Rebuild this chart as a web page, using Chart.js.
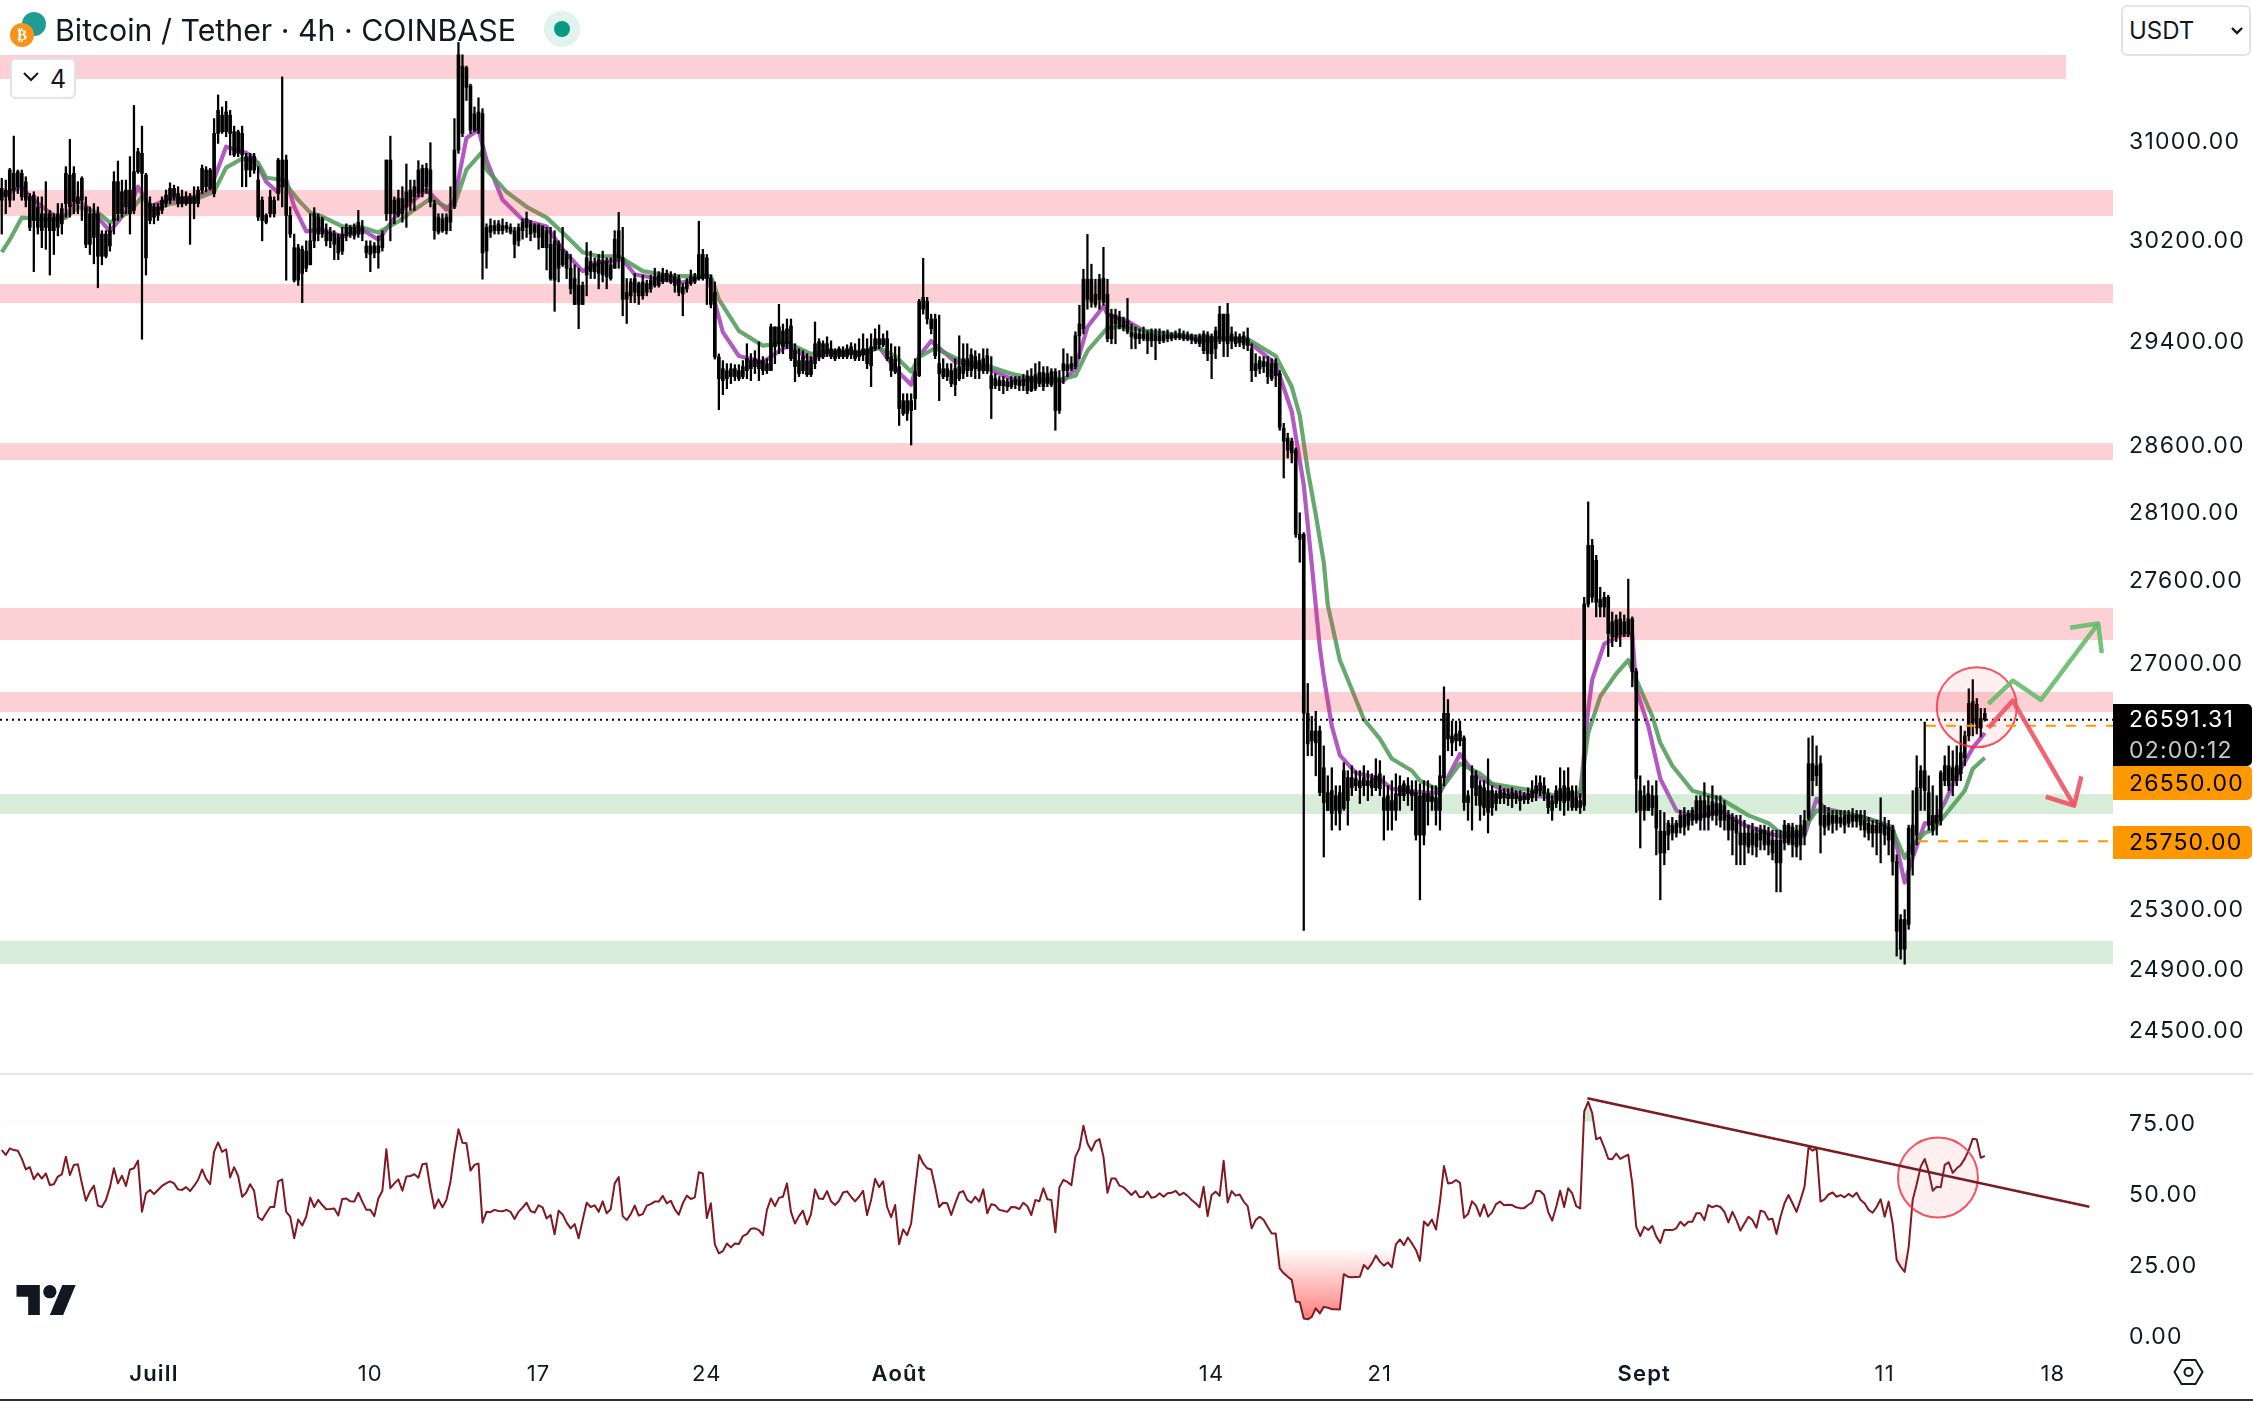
<!DOCTYPE html>
<html>
<head>
<meta charset="utf-8">
<title>Bitcoin / Tether 4h</title>
<script src="https://cdn.jsdelivr.net/npm/chart.js@4/dist/chart.umd.js"></script>
<style>
  html, body { margin: 0; padding: 0; background: #fff; }
  body { width: 2253px; height: 1401px; position: relative; overflow: hidden; font-family: Inter, sans-serif; color: #131722; }
  canvas { position: absolute; left: 0; display: block; }
  #priceChart { top: 0; }
  #rsiChart { top: 1075px; }
  .abs { position: absolute; }
  #sep { left: 0; top: 1073px; width: 2253px; height: 2px; background: #e0e3eb; }
  #bottomBar { left: 0; top: 1399px; width: 2253px; height: 2px; background: #2a2e39; }
  #title { left: 55px; top: 10px; font-size: 30.3px; line-height: 40px; white-space: nowrap; }
  .coin { border-radius: 50%; width: 24px; height: 24px; }
  #usdtIcon { left: 22px; top: 12px; background: #1f9c93; }
  #btcIcon { left: 10px; top: 23px; background: #f7931a; color: #fff; font: bold 15px/24px "DejaVu Sans"; text-align: center; }
  #statusOuter { left: 544px; top: 11px; width: 36px; height: 36px; border-radius: 50%; background: #e1f3ee; }
  #statusDot { left: 554px; top: 21px; width: 16px; height: 16px; border-radius: 50%; background: #089981; }
  .box { border: 2px solid #e0e3eb; border-radius: 6px; background: #fff; box-sizing: border-box; }
  #collapseBox { left: 10px; top: 58px; width: 66px; height: 41px; }
  #collapseNum { left: 50px; top: 62px; font-size: 25px; line-height: 34px; }
  #usdtBox { left: 2121px; top: 5px; width: 130px; height: 51px; }
  #usdtText { left: 2129px; top: 14px; font-size: 24px; line-height: 34px; }
  .tag { left: 2113px; width: 139px; box-sizing: border-box; padding-left: 16px; font-size: 23px; letter-spacing: 1.2px; white-space: nowrap; border-radius: 0 5px 5px 0; }
</style>
</head>
<body>
<canvas id="priceChart" width="2253" height="1074"></canvas>
<canvas id="rsiChart" width="2253" height="326"></canvas>
<div class="abs" id="sep"></div>
<div class="abs" id="bottomBar"></div>

<div class="abs coin" id="usdtIcon"></div>
<div class="abs coin" id="btcIcon">₿</div>
<div class="abs" id="title">Bitcoin / Tether · 4h · COINBASE</div>
<div class="abs" id="statusOuter"></div>
<div class="abs" id="statusDot"></div>

<div class="abs box" id="collapseBox"></div>
<svg class="abs" style="left:22px;top:70px" width="18" height="14" viewBox="0 0 18 14"><path d="M2 3l7 7 7-7" fill="none" stroke="#131722" stroke-width="2"/></svg>
<div class="abs" id="collapseNum">4</div>

<div class="abs box" id="usdtBox"></div>
<div class="abs" id="usdtText">USDT</div>
<svg class="abs" style="left:2230px;top:26px" width="14" height="10" viewBox="0 0 14 10"><path d="M2 2l5 5 5-5" fill="none" stroke="#131722" stroke-width="2.4"/></svg>

<svg class="abs" style="left:16px;top:1285px" width="61" height="30" viewBox="0 4 36 18"><path d="M14 22H7V11H0V4h14v18zM28 22h-8l7.5-18h8L28 22z" fill="#131722"/><circle cx="20" cy="8" r="4" fill="#131722"/></svg>
<svg class="abs" style="left:2173px;top:1358px" width="31" height="28" viewBox="0 0 31 28"><path d="M8.5 2h14l7 12-7 12h-14l-7-12z" fill="none" stroke="#131722" stroke-width="2"/><circle cx="15.5" cy="14" r="4" fill="none" stroke="#131722" stroke-width="2"/></svg>

<script>
// right axis and time axis
const priceTicks = [31000, 30200, 29400, 28600, 28100, 27600, 27000, 25300, 24900, 24500];
const rsiTicks = [75, 50, 25, 0];
const timeTickIndex = [38, 92, 134, 176, 224, 302, 344, 410, 470, 512];
const timeTickLabels = ["Juill", "10", "17", "24", "Août", "14", "21", "Sept", "11", "18"];
const boldLabels = ["Juill", "Août", "Sept"];

// 4h candles, one line per ten bars
const closes = [
  30605,30592,30755,30728,30741,30728,30660,30537,30551,30456,
  30401,30401,30401,30374,30401,30442,30728,30714,30728,30537,
  30687,30456,30401,30401,30401,30238,30238,30265,30660,30660,
  30578,30592,30592,30741,30904,30891,30714,30483,30456,30456,
  30510,30551,30605,30605,30564,30537,30537,30537,30537,30592,
  30768,30755,30755,31054,31244,31204,31231,31204,31068,31068,
  31054,30864,30864,30864,30673,30510,30388,30537,30510,30836,
  30836,30836,30388,30129,30129,30116,30102,30184,30401,30374,
  30360,30265,30252,30238,30211,30238,30292,30292,30292,30333,
  30292,30143,30143,30143,30143,30238,30836,30836,30510,30524,
  30524,30578,30592,30619,30755,30768,30768,30755,30483,30374,
  30360,30374,30428,30918,31707,31612,31598,31448,31217,31231,
  31217,30292,30306,30306,30320,30306,30306,30292,30265,30292,
  30333,30360,30320,30306,30306,30292,30265,30156,30184,30156,
  30116,30075,29966,29884,29830,29830,30048,30020,30007,30034,
  30020,30020,29993,30197,30265,30048,29776,29857,29884,29844,
  29857,29844,29871,29898,29912,29925,29925,29912,29898,29884,
  29816,29857,29898,29898,30075,30075,30048,29884,29776,29270,
  29180,29165,29180,29180,29165,29196,29257,29242,29257,29242,
  29242,29219,29504,29504,29504,29473,29489,29512,29319,29242,
  29273,29242,29242,29373,29388,29373,29373,29334,29319,29334,
  29319,29334,29350,29319,29319,29334,29334,29350,29412,29412,
  29412,29412,29273,29257,29196,28934,28934,28934,29157,29705,
  29736,29705,29566,29566,29219,29180,29180,29165,29180,29196,
  29257,29257,29288,29273,29242,29257,29280,29126,29103,29088,
  29088,29080,29088,29096,29088,29096,29119,29119,29134,29150,
  29150,29142,29157,29157,29103,29219,29211,29219,29435,29527,
  29879,29879,29879,29760,29879,29887,29760,29604,29597,29581,
  29550,29550,29466,29458,29450,29450,29450,29450,29442,29435,
  29435,29442,29442,29442,29450,29442,29435,29435,29412,29427,
  29450,29442,29427,29473,29604,29604,29604,29450,29427,29427,
  29435,29412,29334,29219,29242,29234,29234,29219,29219,29142,
  28724,28649,28626,28558,27928,27928,26637,26512,26512,26512,
  26256,26083,26097,26062,26083,26235,26187,26187,26180,26166,
  26187,26166,26180,26200,26214,26048,26062,26028,26076,26131,
  26145,26131,26097,26083,26062,26076,26076,26062,26048,26200,
  26637,26637,26478,26492,26512,26464,26062,26200,26200,26131,
  26117,26097,26097,26076,26097,26083,26076,26083,26076,26062,
  26062,26076,26097,26131,26152,26131,26076,26028,26097,26110,
  26131,26117,26097,26048,26028,27417,27847,27847,27737,27453,
  27467,27467,27289,27303,27310,27289,27310,27310,26933,26097,
  26062,26076,26062,26062,25819,25819,25873,25860,25873,25927,
  25927,25940,25961,26028,26028,26028,25995,26021,26008,26008,
  25995,25927,25913,25893,25806,25806,25806,25826,25806,25826,
  25826,25806,25758,25758,25758,25860,25860,25846,25826,25860,
  25893,26284,26284,26270,26284,25927,25940,25927,25927,25913,
  25927,25927,25927,25927,25927,25893,25873,25860,25860,25873,
  25860,25846,25826,25610,25222,25222,25839,25860,26117,26235,
  26235,26083,25927,25927,26221,26270,26270,26256,26270,26360,
  26478,26706,26720,26700,26602,26591.31
];
const opens = [
  30510,30537,30510,30592,30619,30537,30510,30292,30347,30292,
  30265,30292,30265,30265,30292,30320,30483,30456,30496,30483,
  30510,30156,30156,30211,30061,30061,30061,30143,30347,30401,
  30401,30456,30401,30428,30741,30728,30048,30347,30374,30388,
  30428,30483,30510,30537,30483,30483,30483,30483,30483,30483,
  30592,30619,30605,30564,31054,31068,31068,31054,30877,30891,
  30877,30755,30755,30755,30374,30347,30333,30401,30401,30564,
  30619,30388,30238,29871,29871,29925,29966,29993,30184,30238,
  30238,30184,30184,30156,30088,30102,30224,30238,30224,30238,
  30238,30088,30075,30088,30088,30129,30401,30401,30401,30388,
  30401,30456,30496,30537,30564,30578,30619,30496,30265,30252,
  30265,30265,30333,30456,30918,31054,31435,31081,31081,31081,
  30088,30102,30252,30265,30265,30265,30279,30252,30156,30184,
  30265,30292,30238,30252,30211,30129,30129,29884,29871,29966,
  29993,29966,29803,29680,29680,29680,29912,29939,29939,29925,
  29912,29898,29884,29966,30048,29721,29721,29748,29776,29748,
  29748,29776,29803,29830,29830,29857,29871,29857,29830,29776,
  29762,29803,29844,29857,29884,29884,29884,29680,29270,29102,
  29088,29103,29119,29119,29103,29119,29165,29180,29196,29180,
  29165,29165,29165,29350,29373,29350,29373,29257,29196,29142,
  29165,29134,29134,29219,29273,29273,29296,29273,29257,29273,
  29273,29273,29288,29257,29273,29288,29219,29203,29334,29365,
  29365,29257,29165,29157,28874,28836,28836,28859,28949,29126,
  29643,29566,29489,29280,29142,29119,29119,29065,29057,29103,
  29142,29165,29165,29180,29165,29165,29165,29026,29049,29049,
  29049,29041,29041,29057,29049,29049,29011,29011,29026,29065,
  29041,29065,29057,28859,28859,29165,29165,29180,29196,29435,
  29489,29720,29697,29681,29720,29697,29412,29412,29527,29504,
  29504,29466,29427,29412,29412,29412,29396,29396,29396,29396,
  29396,29412,29412,29419,29419,29412,29412,29404,29388,29373,
  29319,29296,29296,29334,29412,29396,29373,29396,29373,29381,
  29365,29358,29165,29165,29180,29196,29119,29103,29126,28731,
  28626,28558,28536,27928,27891,26637,26422,26443,26429,26083,
  26015,25961,25940,25961,25940,25974,26028,26117,26131,26117,
  26131,26131,26117,26117,26110,25961,25961,25961,25961,26062,
  26062,26076,26062,25792,25792,25792,26021,26021,25961,25961,
  26187,26457,26429,26443,26443,26015,26015,26117,26062,25995,
  25981,25947,25981,26008,26042,26048,26042,26042,26042,26028,
  26035,26035,26048,26076,26097,26076,25981,25961,26008,26028,
  26015,26028,25981,25981,25981,25995,27417,27467,27431,27396,
  27396,27204,27182,27182,27196,27204,27204,26933,26180,25961,
  25961,25961,25981,25839,25670,25670,25792,25806,25806,25846,
  25846,25860,25893,25893,25893,25913,25913,25927,25927,25893,
  25893,25826,25826,25806,25725,25725,25711,25725,25711,25758,
  25725,25725,25670,25603,25603,25738,25738,25725,25711,25725,
  25792,25906,26166,26200,25860,25846,25860,25873,25873,25873,
  25860,25873,25886,25886,25860,25826,25806,25806,25806,25806,
  25792,25758,25610,25144,25025,25025,25190,25657,25792,26117,
  26097,25860,25826,25873,25893,26166,26131,26166,26166,26214,
  26325,26478,26568,26533,26533,26637
];
const highs = [
  30687,30673,30768,31032,30755,30755,30700,30564,30578,30537,
  30537,30660,30428,30401,30483,30483,30782,31005,30782,30660,
  30700,30537,30456,30483,30456,30265,30265,30320,30741,30828,
  30673,30673,30864,31285,30932,31114,30728,30537,30483,30483,
  30537,30592,30651,30632,30619,30592,30578,30564,30619,30619,
  30796,30782,30768,31176,31372,31272,31318,31244,31114,31081,
  31114,30891,30891,30891,30782,30537,30401,30592,30537,30850,
  31522,30877,30456,30238,30156,30143,30184,30401,30450,30401,
  30374,30320,30292,30265,30238,30292,30320,30306,30320,30428,
  30347,30184,30184,30170,30224,30265,30836,31032,30537,30592,
  30619,30804,30673,30673,30831,30796,30809,30978,30510,30401,
  30401,30401,30619,31176,31810,31707,31612,31462,31272,31348,
  31258,30320,30360,30347,30347,30360,30333,30320,30292,30320,
  30360,30415,30347,30320,30320,30306,30292,30292,30265,30184,
  30292,30102,30075,29993,29966,29857,30170,30102,30048,30075,
  30102,30048,30048,30265,30412,30292,29884,29884,29925,29857,
  29912,29871,29912,29966,29939,29966,29952,29939,29925,29912,
  29844,29884,29952,29925,30341,30116,30075,29912,29857,29294,
  29242,29219,29219,29211,29211,29242,29373,29296,29319,29388,
  29273,29257,29527,29504,29681,29527,29566,29566,29373,29334,
  29319,29296,29273,29543,29412,29396,29427,29396,29334,29350,
  29350,29365,29381,29373,29412,29450,29412,29450,29489,29520,
  29450,29473,29373,29350,29350,28987,28987,28987,29257,29720,
  30045,29736,29604,29604,29597,29257,29219,29219,29257,29435,
  29373,29373,29334,29319,29296,29334,29334,29273,29142,29119,
  29119,29103,29119,29119,29119,29134,29165,29180,29219,29234,
  29196,29196,29180,29180,29165,29334,29296,29273,29466,29674,
  29958,30235,29998,29879,29918,30132,29879,29643,29643,29627,
  29581,29728,29527,29504,29489,29504,29473,29489,29489,29489,
  29473,29481,29458,29473,29489,29473,29466,29450,29442,29450,
  29473,29466,29450,29504,29666,29604,29689,29504,29466,29450,
  29466,29496,29373,29296,29273,29273,29273,29257,29257,29165,
  28761,28686,28649,28574,28088,27942,26848,26616,26651,26547,
  26408,26200,26256,26131,26131,26291,26235,26270,26235,26235,
  26270,26235,26214,26318,26305,26200,26131,26166,26214,26200,
  26166,26187,26166,26166,26145,26166,26166,26131,26131,26339,
  26824,26734,26582,26582,26582,26478,26097,26270,26235,26166,
  26166,26318,26131,26097,26131,26110,26110,26117,26097,26097,
  26083,26117,26166,26200,26200,26187,26110,26062,26131,26256,
  26235,26256,26131,26131,26076,27467,28169,27891,27774,27540,
  27504,27482,27360,27339,27360,27339,27599,27325,26954,26200,
  26131,26166,26131,26166,25961,25947,25893,25913,25893,25961,
  25981,25961,25981,26062,26062,26152,26062,26131,26062,26062,
  26028,25961,25940,25927,25927,25893,25860,25873,25846,25860,
  25860,25846,25826,25826,25826,25893,25873,25873,25860,25927,
  25961,26464,26478,26408,26339,25995,25981,25961,25961,25961,
  25961,25961,25974,25961,25961,25961,25913,25893,25893,26048,
  25913,25893,25860,25657,25255,25288,25860,26097,26339,26270,
  26575,26200,26131,26062,26235,26339,26408,26374,26408,26547,
  26512,26810,26875,26741,26671,26671
];
const lows = [
  30238,30401,30456,30510,30564,30510,30456,30265,29939,30238,
  30129,30116,29912,30075,30224,30238,30374,30374,30401,30401,
  30347,30129,30075,30001,29811,29993,30048,30102,30238,30347,
  30374,30401,30238,30401,30728,29408,29912,30320,30320,30347,
  30401,30456,30483,30510,30456,30456,30469,30156,30360,30456,
  30564,30578,30592,30537,30972,31054,31027,30877,30864,30864,
  30619,30619,30700,30728,30347,30184,30320,30374,30374,30510,
  30456,29871,30211,29857,29830,29694,29939,29993,30129,30184,
  30211,30143,30129,30034,30034,30075,30184,30211,30197,30211,
  30184,30048,29939,30048,29966,30102,30347,30184,30320,30374,
  30333,30292,30428,30428,30537,30537,30564,30456,30197,30238,
  30252,30238,30265,30442,30891,31027,31326,31054,31068,31054,
  29879,29966,30211,30238,30238,30238,30252,30238,30048,30143,
  30197,30211,30184,30211,30116,30129,29952,29871,29626,29857,
  29980,29884,29762,29680,29490,29680,29748,29884,29884,29803,
  29857,29803,29871,29966,29966,29591,29531,29694,29694,29680,
  29721,29748,29776,29816,29816,29844,29857,29844,29776,29748,
  29591,29776,29830,29844,29871,29871,29680,29653,29254,28865,
  28980,29026,29065,29088,29088,29103,29103,29088,29142,29088,
  29134,29142,29165,29219,29296,29296,29334,29242,29080,29119,
  29142,29119,29119,29180,29242,29257,29273,29257,29242,29257,
  29257,29257,29257,29242,29242,29242,29180,29041,29319,29334,
  29350,29242,29119,29142,28745,28821,28783,28596,28866,29119,
  29604,29527,29450,29257,28934,29103,29088,29041,28972,29088,
  29103,29119,29119,29103,29103,29142,29142,28797,29026,29011,
  28987,29011,29026,29026,29011,29011,28987,29003,29011,29041,
  29011,29041,29041,28708,28836,29065,29119,29165,29180,29257,
  29450,29643,29658,29658,29643,29674,29388,29373,29373,29489,
  29473,29450,29334,29334,29373,29396,29296,29350,29249,29373,
  29381,29388,29396,29404,29404,29396,29396,29373,29373,29350,
  29296,29242,29103,29257,29373,29273,29273,29334,29350,29350,
  29334,29319,29080,29119,29142,29150,29065,29088,29041,28708,
  28348,28498,28461,27906,27723,25150,26339,26339,26200,26062,
  25643,25961,25826,25860,25826,25961,25860,26062,26097,26008,
  26062,26028,26062,26097,26062,25758,25826,25826,25893,25961,
  26028,25995,25961,25758,25354,25725,25860,25961,25860,25826,
  26131,26374,26339,26374,26408,25961,25893,25826,25995,25893,
  25927,25806,25927,25961,26008,26008,25995,25981,26008,25961,
  26008,26008,26021,26028,26062,26028,25940,25893,25981,25961,
  25927,25961,25961,25961,25940,25961,27396,27431,27325,27325,
  27325,27040,27111,27147,27111,27182,27182,26824,25947,25704,
  25893,25961,25927,25657,25354,25590,25691,25758,25778,25806,
  25792,25826,25860,25873,25826,25826,25826,25893,25860,25846,
  25826,25758,25657,25590,25590,25590,25670,25657,25643,25691,
  25691,25657,25623,25407,25407,25691,25725,25643,25643,25623,
  25725,25893,26062,26131,25670,25792,25826,25806,25826,25846,
  25806,25846,25846,25846,25826,25778,25758,25711,25657,25603,
  25725,25657,25520,24979,24959,24926,25157,25520,25725,25961,
  25961,25826,25792,25792,25860,26131,26097,26062,26131,26166,
  26270,26443,26478,26492,26471,26582
];
const barIndex = closes.map((c, i) => i);

const greenIndex = [0,2,5,12,16,19,24,27,32,35,38,42,48,53,56,60,64,66,70,74,77,80,85,90,94,99,103,107,112,113,116,120,121,126,131,136,140,145,149,154,160,167,177,179,184,190,196,202,208,215,219,223,227,229,233,240,246,252,258,265,268,271,276,280,287,294,301,311,318,322,324,326,328,330,331,334,337,340,344,347,352,354,359,364,369,372,382,388,394,396,399,403,406,408,412,414,417,422,429,436,441,444,449,453,461,469,472,475,477,480,482,486,490,492,495];
const greenValues = [30093,30193,30370,30353,30370,30457,30410,30330,30418,30537,30434,30481,30513,30578,30774,30848,30815,30692,30676,30513,30410,30378,30299,30291,30251,30339,30434,30521,30441,30473,30758,30905,30758,30578,30457,30370,30251,30093,30061,30061,29943,29904,29904,29720,29473,29358,29381,29294,29317,29309,29340,29278,29157,29270,29340,29232,29202,29140,29102,29102,29125,29317,29496,29504,29465,29442,29419,29409,29278,29040,28821,28405,28074,27720,27410,27015,26805,26595,26457,26318,26235,26166,26097,26284,26215,26145,26097,26062,26083,26498,26755,26917,27015,26875,26616,26429,26270,26097,26042,25927,25873,25806,25806,25960,25940,25880,25826,25637,25725,25806,25826,25960,26097,26249,26325];
const purpleIndex = [0,2,5,7,12,15,19,23,27,32,34,37,41,48,52,56,61,63,66,69,71,73,76,80,85,90,94,99,106,111,113,116,119,121,125,130,136,140,145,149,155,158,165,170,176,178,180,184,190,196,202,208,215,219,223,227,229,232,238,246,252,259,265,268,271,275,276,281,285,294,300,306,311,318,322,325,327,329,330,332,334,338,344,347,355,359,364,368,374,382,388,394,396,397,400,404,407,408,411,414,418,423,429,435,441,444,450,453,455,465,472,475,477,480,482,485,488,492,495];
const purpleValues = [30553,30578,30619,30537,30410,30353,30513,30410,30259,30457,30619,30457,30513,30537,30594,30945,30896,30856,30659,30570,30676,30457,30259,30275,30219,30275,30193,30410,30594,30434,30513,31017,31084,30837,30513,30353,30299,30115,29943,30012,30035,29916,29877,29853,29916,29697,29463,29278,29232,29355,29255,29309,29294,29347,29180,29056,29278,29394,29232,29180,29102,29087,29087,29180,29504,29666,29604,29550,29473,29433,29394,29409,29394,29217,28851,28295,27706,27108,26896,26547,26344,26220,26179,26110,26083,26083,26351,26199,26110,26062,26049,26062,26665,26875,27130,27194,27201,26805,26547,26179,25961,25913,25961,25860,25806,25780,25790,26042,25974,25913,25846,25470,25637,25873,25873,26015,26199,26394,26498];

// horizontal zones
const bandLows = [31505, 30383, 29691, 28483, 27158, 26646, 25936, 24928];
const bandHighs = [31705, 30592, 29841, 28611, 27389, 26787, 26073, 25080];
const bandEnds = [515.3, 527, 527, 527, 527, 527, 527, 527];
const bandColors = ["pink", "pink", "pink", "pink", "pink", "pink", "green", "green"];

// last price, the two orange levels
const lastPrice = 26591.31;
const levelUp = 26550;
const levelDown = 25750;
const levelUpStart = 480.3;
const levelDownStart = 478.3;
const lastBarTime = "02:00:12";

// hand drawn arrows and circles
const greenArrowIndex = [495.9, 502, 509, 523.3];
const greenArrowValues = [26704, 26868, 26732, 27277];
const greenHeadIndex = [516.3, 523.3, 524.2];
const greenHeadValues = [27246, 27277, 27065];
const redArrowIndex = [495.9, 502, 517.3];
const redArrowValues = [26535, 26727, 25994];
const redHeadIndex = [510.2, 517.3, 519.1];
const redHeadValues = [26055, 25994, 26196];
const circleIndex = 493;
const circleValue = 26680;

// RSI, one line per ten bars
const rsiValues = [
  65,63.3,65.6,65,64.8,62,58.2,59,54.8,56.8,
  55,56.8,52.7,53,55.7,56.5,62.7,56.2,59.8,60,
  53.3,47.2,50.4,52.5,45.5,45,47.5,52,58.6,53.3,
  56,52.4,58.2,58.6,61.3,43.3,49.8,51,49.6,51,
  52.4,53.3,54,53.3,51.2,51,52,50.6,52.4,54.5,
  58.2,55,53,64.4,67.7,64.4,65.3,55.4,59,55.9,
  48.6,50,53,50.6,41.4,40.4,42.8,45,45,54,
  54.7,43.3,41.6,34,40.6,38.5,41.6,48.3,45,47.5,
  45.7,44.2,44.3,44.5,42,47.8,48,47,46.9,50,
  46.9,44,44,41.8,48,50.6,65.3,51.6,53.3,54.7,
  50.7,55.7,55.9,56.5,55.3,60,60.3,51.6,44.5,47.7,
  44.9,47.5,53.9,63.9,72.3,67.6,67.4,57.8,59.8,60.3,
  39.5,43.3,43.2,44,43.6,43.5,44,43.3,40.8,43.3,
  44.8,46.5,43.6,43,45.6,44.9,41,42.2,35.4,43.7,
  42.4,39.5,37.5,39,34,40.4,46.5,45,45.6,43.3,
  47,42.8,44.2,53.3,55.5,41.8,40.4,42.5,45.5,42,
  42.5,45.5,46,46.9,46.9,48.9,46.3,47.2,44.2,42.3,
  46.3,49,47.8,48.4,57.2,56.8,41.1,46.3,31.9,28.7,
  29.5,32.2,30.8,32.2,32,34.8,35.5,37.4,37.5,36.9,
  35.1,44,48,45.3,48.2,48.6,53.3,43.3,39.2,41.8,
  43.7,38.9,42.5,51.2,48,47.8,50.6,47,45.7,47.2,
  50.1,50.5,48.6,47,48.6,50.7,42.2,47.5,54.9,52,
  54,45,41.4,45.7,31.9,37.1,35.1,39.2,51.6,63.3,
  60.3,58.6,58.2,52,45,46.5,46.3,42.2,46.3,50,
  50.6,47.5,46.5,48.6,46.9,51.2,42.8,46,45.6,44,
  43.7,43.3,45,44.9,44.3,46.5,45.3,42.2,47.5,47,
  51.6,47.7,47.5,36.1,51.9,54.5,53.8,52.7,62.7,65.6,
  73.6,67.4,64.8,68,68.9,62.7,50,55,55,52.5,
  52,50.6,49.2,50.6,48.4,48.6,50.4,48.2,48.6,49.8,
  48.6,49.8,50,50.7,49.2,50,48.9,47.5,46.3,44.9,
  52.1,41.8,49.2,50.4,48.9,61.3,46.6,50.6,49,49.4,
  46.9,45.3,37.5,40.4,41.6,40.4,38,35.7,35.7,23.4,
  21.7,20.5,19.4,11.8,11.5,5.8,5.5,6.4,9.4,7.6,
  9.9,9.6,9.1,9.1,9,21.4,20.5,20.3,20.4,20.5,
  24.6,23.2,25.2,27.9,25.8,24.4,25.5,23.8,31.9,33.6,
  31.6,34.3,32.2,29.9,26.1,39.9,38.4,40.6,37.1,46.9,
  59.4,53.3,53.5,54.5,53.5,41.2,42.5,47,45.5,41.8,
  45.9,41.6,43.1,46,46.9,45.6,45.8,45.7,44.9,44.6,
  44.6,45.7,46.6,50.6,50.6,49.2,43.3,40.2,45,50.7,
  45,51.6,49.8,45.3,44.5,78.5,82,78,68.8,69.5,
  66,62,61.8,63.8,61.9,62.7,63.4,53.3,38,34.8,
  38,36.9,38.3,34.6,32.4,36.9,36.9,36.9,37.5,39.8,
  38.4,39.8,39.8,42.8,42.8,40.4,45.7,44.9,45.5,45,
  43.3,39.6,43.3,40.4,36.7,39.2,41.6,40.4,37.7,43.7,
  43.3,40.6,40.9,35.5,41.6,46.3,49.2,46.3,43.3,47.5,
  52.1,66,64.8,65.6,46.9,47.7,49.4,50.1,48.6,49.2,
  48.4,49.6,48.6,50,47.5,46.3,44,43,45,47.7,
  41.6,46.9,39.2,26.4,24,22.2,31,47.5,53,59.2,
  61.9,57.4,50.7,52.1,51.9,59.8,60.7,57,58.6,59.8,
  62,65,69,68.7,62.3,63
];
const rsiLineIndex = [395.8, 521.1];
const rsiLineValues = [83.2, 45.1];
const rsiCircleIndex = 483.3;
const rsiCircleValue = 55.4;

const INK = "#131722";
const AXIS_FONT = { family: "Inter", size: 23 };

function pts(xs, ys) {
  return xs.map((x, i) => ({ x: x, y: ys[i] }));
}

function lineSet(xs, ys, color, width, order, extra) {
  return Object.assign({
    type: "line",
    data: pts(xs, ys),
    borderColor: color,
    borderWidth: width,
    pointRadius: 0,
    tension: 0,
    fill: false,
    order: order,
    borderJoinStyle: "round"
  }, extra || {});
}

function circleSet(x, y, order) {
  return {
    type: "line",
    data: [{ x: x, y: y }],
    pointRadius: 40,
    pointBorderWidth: 2,
    pointBorderColor: "rgba(242,54,69,0.85)",
    pointBackgroundColor: "rgba(242,54,69,0.08)",
    showLine: false,
    order: order
  };
}

function xAxis(display) {
  return {
    type: "linear",
    display: display,
    offset: false,
    min: -0.44,
    max: 527,
    grid: { display: false },
    border: { display: false },
    afterBuildTicks: scale => {
      scale.ticks = timeTickIndex.map(v => ({ value: v }));
    },
    afterFit: scale => {
      scale.height = display ? 58 : 0;
      scale.paddingLeft = 0;
      scale.paddingRight = 0;
    },
    ticks: {
      autoSkip: false,
      maxRotation: 0,
      padding: 10,
      color: INK,
      callback: v => timeTickLabels[timeTickIndex.indexOf(v)],
      font: ctx => {
        const label = ctx.tick ? timeTickLabels[timeTickIndex.indexOf(ctx.tick.value)] : "";
        return { family: "Inter", size: 22, weight: boldLabels.includes(label) ? "600" : "400" };
      }
    }
  };
}

function yAxis(type, min, max, tickValues) {
  return {
    type: type,
    position: "right",
    min: min,
    max: max,
    grid: { display: false, drawTicks: false },
    border: { display: false },
    afterBuildTicks: scale => {
      scale.ticks = tickValues.map(v => ({ value: v }));
    },
    afterFit: scale => {
      scale.width = 140;
      scale.paddingTop = 0;
      scale.paddingBottom = 0;
    },
    ticks: {
      autoSkip: false,
      padding: 16,
      labelOffset: 2,
      color: INK,
      font: AXIS_FONT,
      callback: v => v.toFixed(2)
    }
  };
}

// the circles are big points, so the automatic padding has to stay off
const commonOptions = {
  responsive: false,
  animation: false,
  events: [],
  layout: { padding: 0, autoPadding: false },
  plugins: {
    legend: { display: false },
    tooltip: { enabled: false }
  }
};

const spacingPlugin = {
  id: "spacing",
  beforeDraw(chart) {
    chart.ctx.letterSpacing = "1.2px";
  }
};

// zones sit above the moving averages but below the candles
const bandPlugin = {
  id: "bands",
  beforeDatasetDraw(chart, args) {
    if (args.index !== 0) return;
    const ctx = chart.ctx;
    const x = chart.scales.x;
    const y = chart.scales.y;
    ctx.save();
    bandLows.forEach((low, i) => {
      ctx.fillStyle = bandColors[i] === "pink" ? "rgba(242,54,69,0.23)" : "rgba(76,175,80,0.22)";
      const top = y.getPixelForValue(bandHighs[i]);
      const bottom = y.getPixelForValue(low);
      ctx.fillRect(0, top, x.getPixelForValue(bandEnds[i]), bottom - top);
    });
    ctx.restore();
  }
};

const priceCtx = document.getElementById("priceChart");
new Chart(priceCtx, {
  type: "bar",
  plugins: [bandPlugin, spacingPlugin],
  data: {
    datasets: [
      // wicks first so the zone plugin can hook on index 0
      {
        data: barIndex.map(i => ({ x: i, y: [lows[i], highs[i]] })),
        backgroundColor: "#000",
        barThickness: 1.6,
        grouped: false,
        order: 3
      },
      {
        data: barIndex.map(i => ({ x: i, y: [opens[i], closes[i]] })),
        backgroundColor: "#000",
        barThickness: 3,
        grouped: false,
        order: 2
      },
      lineSet(purpleIndex, purpleValues, "rgba(171,71,188,0.9)", 4.2, 6),
      lineSet(greenIndex, greenValues, "rgba(76,153,86,0.85)", 4.2, 5),
      lineSet([-0.44, 527], [lastPrice, lastPrice], "#000", 2, 4, { borderDash: [2, 4] }),
      lineSet([levelUpStart, 527], [levelUp, levelUp], "#ff9800", 2, 1, { borderDash: [10, 10] }),
      lineSet([levelDownStart, 527], [levelDown, levelDown], "#ff9800", 2, 1, { borderDash: [10, 10] }),
      circleSet(circleIndex, circleValue, 1),
      lineSet(greenArrowIndex, greenArrowValues, "rgba(102,187,106,0.9)", 4.5, 0),
      lineSet(greenHeadIndex, greenHeadValues, "rgba(102,187,106,0.9)", 4.5, 0),
      lineSet(redArrowIndex, redArrowValues, "rgba(239,83,100,0.9)", 4.5, 0),
      lineSet(redHeadIndex, redHeadValues, "rgba(239,83,100,0.9)", 4.5, 0)
    ]
  },
  options: Object.assign({}, commonOptions, {
    scales: {
      x: xAxis(false),
      y: yAxis("logarithmic", 24212, 32170, priceTicks)
    }
  })
});

const rsiCtx = document.getElementById("rsiChart");
const oversold = rsiCtx.getContext("2d").createLinearGradient(0, 172, 0, 250);
oversold.addColorStop(0, "rgba(255,82,82,0)");
oversold.addColorStop(1, "rgba(255,82,82,0.8)");

new Chart(rsiCtx, {
  type: "line",
  plugins: [spacingPlugin],
  data: {
    datasets: [
      lineSet([rsiLineIndex[0], rsiLineIndex[1]], rsiLineValues, "#7a1c24", 2.6, 0),
      circleSet(rsiCircleIndex, rsiCircleValue, 1),
      lineSet(barIndex, rsiValues, "#801922", 2, 2, {
        fill: { target: { value: 30 }, above: "rgba(0,0,0,0)", below: oversold }
      }),
      lineSet(barIndex, rsiValues, "rgba(0,0,0,0)", 0, 3, {
        fill: { target: { value: 75 }, above: "rgba(76,175,80,0.25)", below: "rgba(0,0,0,0)" }
      })
    ]
  },
  options: Object.assign({}, commonOptions, {
    scales: {
      x: xAxis(true),
      y: yAxis("linear", -2.8, 91.4, rsiTicks)
    }
  })
});

// price tags on the right, plain page text
function addTag(top, height, background, color, lines) {
  const tag = document.createElement("div");
  tag.className = "abs tag";
  tag.style.top = top + "px";
  tag.style.height = height + "px";
  tag.style.background = background;
  tag.style.color = color;
  tag.innerHTML = lines.map(l =>
    '<div style="line-height:' + (height / lines.length) + "px;color:" + l.color + '">' + l.text + "</div>"
  ).join("");
  document.body.appendChild(tag);
}

addTag(704, 62, "#000", "#fff", [
  { text: lastPrice.toFixed(2), color: "#fff" },
  { text: lastBarTime, color: "#c8c8c8" }
]);
addTag(766, 34, "#ff9800", "#000", [{ text: levelUp.toFixed(2), color: "#000" }]);
addTag(826, 33, "#ff9800", "#000", [{ text: levelDown.toFixed(2), color: "#000" }]);
</script>
</body>
</html>
